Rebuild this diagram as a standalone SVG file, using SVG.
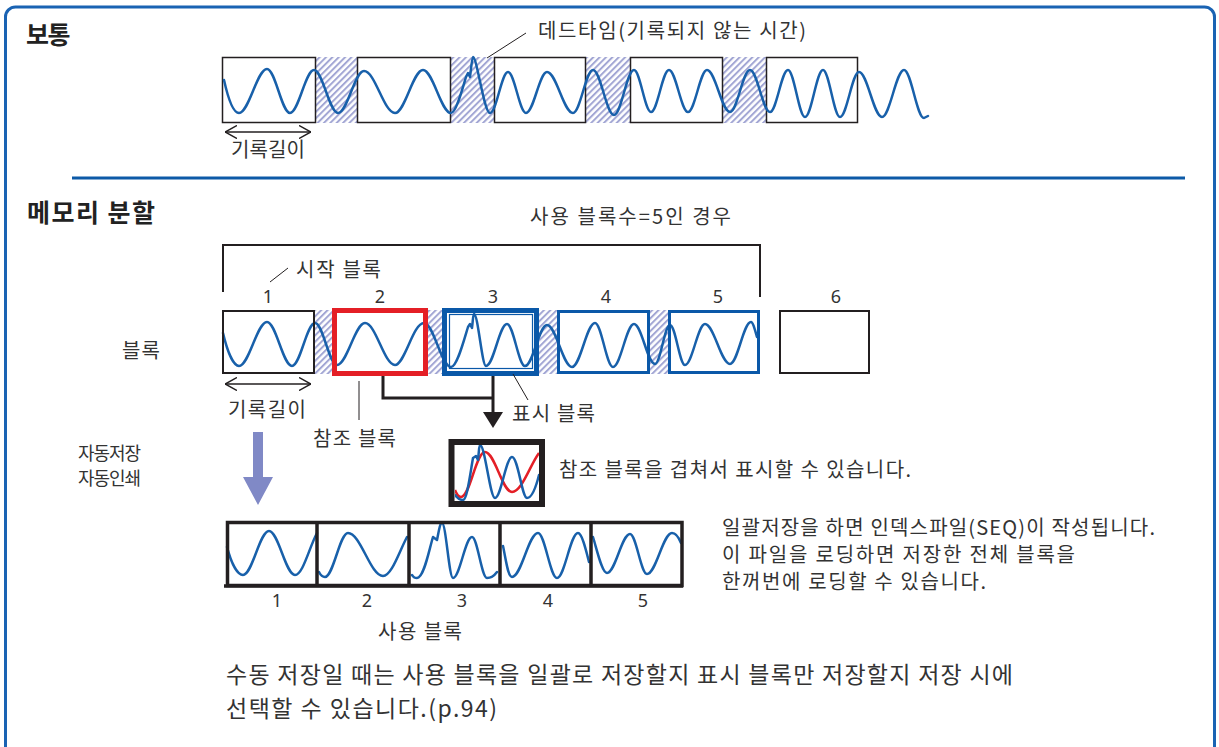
<svg xmlns="http://www.w3.org/2000/svg" width="1219" height="747" viewBox="0 0 1219 747">
<style>
text{font-family:"Noto Sans CJK KR","Noto Sans",sans-serif;fill:#333;font-size:20px}
.t{font-weight:bold;font-size:25px;fill:#222}
.num{font-family:"Noto Sans",sans-serif;font-size:18px;text-anchor:middle}
.bt{font-size:23px}
.sm{font-size:18px}
.wave{fill:none;stroke:#1860aa;stroke-width:2.5;stroke-linejoin:round;stroke-linecap:round}
.box{fill:none;stroke:#231f20;stroke-width:1.5}
.bbox{fill:none;stroke:#231f20;stroke-width:2}
.ln{fill:none;stroke:#231f20;stroke-width:1}
.hatch{fill:url(#hp)}
</style>
<defs>
<pattern id="hp" width="4.5" height="4.5" patternUnits="userSpaceOnUse" patternTransform="rotate(45)">
<rect width="4.5" height="4.5" fill="#fff"/>
<line x1="1" y1="0" x2="1" y2="4.5" stroke="#a2a6d4" stroke-width="2"/>
</pattern>
<marker id="oa" viewBox="0 0 12 14" refX="12" refY="7" markerWidth="12" markerHeight="14" markerUnits="userSpaceOnUse" orient="auto-start-reverse">
<path d="M0,0.5 L12,7 L0,13.5" fill="none" stroke="#231f20" stroke-width="1.5"/>
</marker>
<clipPath id="ovc"><rect x="455" y="445" width="84" height="56"/></clipPath>
</defs>

<rect id="frame" x="5.5" y="7" width="1209" height="760" rx="10" fill="#fff" stroke="#1a63b3" stroke-width="3"/>
<line id="divider" x1="72" y1="178" x2="1185" y2="178" stroke="#0d5aa7" stroke-width="3"/>

<g id="titles">
<text class="t" x="26" y="44" font-size="26" letter-spacing="-1.5">보통</text>
<text class="t" x="27" y="222" textLength="128">메모리 분할</text>
</g>

<g id="normal">
<rect class="hatch" x="316" y="57" width="41" height="66"/>
<rect class="hatch" x="451" y="57" width="43" height="66"/>
<rect class="hatch" x="586" y="57" width="44" height="66"/>
<rect class="hatch" x="723" y="57" width="43" height="66"/>
<rect class="box" x="222.5" y="57.5" width="93" height="65"/>
<rect class="box" x="357.5" y="57.5" width="93" height="65"/>
<rect class="box" x="494.5" y="57.5" width="91" height="65"/>
<rect class="box" x="630.5" y="57.5" width="92" height="65"/>
<rect class="box" x="766.5" y="57.5" width="91" height="65"/>
<path class="wave" d="M224,80 C228,98 233,113 239,113 C249,113 257,69 267,69 C275.3,69 281.7,113 290,113 C298.6,113 305.4,70 314,70 C322.6,70 329.4,113 338,113 C347.4,113 354.6,71 364,71 C375.2,71 383.8,113 395,113 C405,113 413,70 423,70 C433,70 441,113 451,113 C456,113 462,90 466,77 L468,73 L470,77 C471,70 472,57 473,57 C477,57 484,113 490,113 C496.5,113 501.5,72 508,72 C514.5,72 519.5,113 526,113 C533.6,113 539.4,72 547,72 C556.4,72 563.6,113 573,113 C580.2,113 585.8,70 593,70 C600.6,70 606.4,115 614,115 C621.2,115 626.8,70 634,70 C640.1,70 644.9,112 651,112 C657.5,112 662.5,70 669,70 C675.8,70 681.2,112 688,112 C694.8,112 700.2,70 707,70 C715.3,70 721.7,112 730,112 C737.2,112 742.8,70 750,70 C757.2,70 762.8,112 770,112 C776.5,112 781.5,70 788,70 C794.1,70 798.9,117 805,117 C811.5,117 816.5,70 823,70 C829.1,70 833.9,117 840,117 C846.8,117 852.2,72 859,72 C867.3,72 873.7,117 882,117 C889.9,117 896.1,70 904,70 C911.2,70 916.8,118 924,118 L928,116"/>
<line class="ln" x1="526" y1="33" x2="487" y2="58"/>
<text x="538" y="38" textLength="268">데드타임(기록되지 않는 시간)</text>
<line class="box" x1="225" y1="132" x2="311" y2="132" marker-start="url(#oa)" marker-end="url(#oa)"/>
<text x="231" y="157" textLength="74">기록길이</text>
</g>

<g id="split-header">
<text x="530" y="224" textLength="201">사용 블록수=5인 경우</text>
<path d="M223,292 V245 H760 V297" fill="none" stroke="#231f20" stroke-width="2"/>
<line class="ln" x1="288" y1="268" x2="270" y2="282"/>
<text x="296" y="277" textLength="85">시작 블록</text>
<text class="num" x="268" y="303">1</text>
<text class="num" x="380" y="303">2</text>
<text class="num" x="493" y="303">3</text>
<text class="num" x="606" y="303">4</text>
<text class="num" x="718" y="303">5</text>
<text class="num" x="836" y="303">6</text>
<text x="122" y="358" textLength="38">블록</text>
</g>

<g id="blocks">
<rect class="hatch" x="314" y="310" width="19" height="64"/>
<rect class="hatch" x="428" y="310" width="15" height="64"/>
<rect class="hatch" x="538" y="310" width="19" height="64"/>
<rect class="hatch" x="649" y="310" width="19" height="64"/>
<path class="wave" d="M223,333 C227,350 233,366 239,366 C249,366 257,322 267,322 C276,322 283,366 292,366 C300.3,366 306.7,323 315,323 C322.9,323 329.1,365 337,365 C347,365 355,323 365,323 C375.8,323 384.2,365 395,365 C404.7,365 413,323 424,323 C433.7,323 441.3,367 451,367 C457,367 464,340 468,327 L470,324 L472,328 C473,320 473,314 474,314 C478,314 482,366 486,366 C493.6,366 499.4,324 507,324 C513.5,324 518.5,366 525,366 C532.9,366 539.1,325 547,325 C556,325 563,367 572,367 C580.3,367 586.7,323 595,323 C601.5,323 606.5,367 613,367 C620.6,367 626.4,324 634,324 C641.6,324 647.4,364 655,364 C660.4,364 664.6,325 670,325 C675.4,325 679.6,365 685,365 C692.2,365 697.8,324 705,324 C714,324 721,364 730,364 C737.6,364 743.4,322 751,322 C753,322 755,330 757,337"/>
<rect class="bbox" x="223" y="311" width="91" height="62"/>
<rect x="334.5" y="310.5" width="91" height="63" fill="none" stroke="#e41f26" stroke-width="5"/>
<rect x="444.5" y="310.5" width="92" height="63" fill="none" stroke="#0a58a8" stroke-width="5"/>
<rect x="449.5" y="314.5" width="83" height="54" fill="none" stroke="#0a58a8" stroke-width="1.2"/>
<rect x="558.5" y="311.5" width="90" height="61" fill="none" stroke="#0a58a8" stroke-width="3"/>
<rect x="669.5" y="311.5" width="89" height="61" fill="none" stroke="#0a58a8" stroke-width="3"/>
<rect class="bbox" x="780" y="311" width="89" height="62"/>
</g>

<g id="block-labels">
<line class="box" x1="225" y1="384" x2="311" y2="384" marker-start="url(#oa)" marker-end="url(#oa)"/>
<text x="228" y="417" textLength="78">기록길이</text>
<line class="ln" x1="359" y1="381" x2="359" y2="420"/>
<text x="313" y="446" textLength="83">참조 블록</text>
<line class="ln" x1="513" y1="374" x2="528" y2="400"/>
<text x="512" y="421" textLength="83">표시 블록</text>
</g>

<g id="connectors">
<path d="M383,376 V398 H493 M493,376 V413" fill="none" stroke="#231f20" stroke-width="3"/>
<polygon points="483,412 503,412 493,428" fill="#231f20"/>
<polygon points="253,432 263,432 263,477 273,477 258,505 243,477 253,477" fill="#8089c6"/>
</g>

<g id="overlay">
<g clip-path="url(#ovc)">
<path d="M455,490 C457,495 459,497 461,497 C470,497 476,452 485,452 C494.7,452 502.3,492 512,492 C521.7,492 530,465 539,453" fill="none" stroke="#e41f26" stroke-width="2.5"/>
<path class="wave" d="M455,495 C458,499 460,500 463,500 C467,500 470,475 473,458 L476,456 L478,460 C479,452 479,445 480,445 C485,445 490,498 495,498 C501,498 506,457 512,457 C518,457 522,498 527,498 C532,498 536,487 539,475"/>
</g>
<rect x="451.5" y="442" width="90.5" height="62" fill="none" stroke="#231f20" stroke-width="6"/>
<text x="559" y="477" textLength="352">참조 블록을 겹쳐서 표시할 수 있습니다.</text>
</g>

<g id="auto">
<text class="sm" x="78" y="460" textLength="63">자동저장</text>
<text class="sm" x="78" y="485" textLength="63">자동인쇄</text>
</g>

<g id="used-blocks">
<path class="wave" d="M227,547 C231,562 237,575 243,575 C252.4,575 259.6,531 269,531 C278.4,531 285.6,575 295,575 C302.9,575 309,548 317,533"/>
<path class="wave" d="M319,572 C321,576 323,577 325,577 C333.3,577 339.7,533 348,533 C360.6,533 370.4,576 383,576 C391.6,576 399,552 407,537"/>
<path class="wave" d="M412,575 C414,578 415,578 417,578 C424,578 429,550 433,537 L437,540 C439,530 440,523 442,523 C446,523 449,578 453,578 C459.8,578 465.2,537 472,537 C477.4,537 481.6,578 487,578 C491,578 494,576 497,572"/>
<path class="wave" d="M503,546 C506,560 508,577 512,577 C521.4,577 528.6,533 538,533 C544.8,533 550.2,578 557,578 C564.6,578 570.4,533 578,533 C582,533 586,550 589,562"/>
<path class="wave" d="M593,537 C597,550 602,573 607,573 C615.3,573 621.7,534 630,534 C636.1,534 640.9,574 647,574 C656,574 663,533 672,533 C676,533 679,538 681,543"/>
<rect x="227.5" y="522.5" width="454.5" height="63" fill="none" stroke="#231f20" stroke-width="3.5"/>
<path d="M317,522 V586 M409,522 V586 M500,522 V586 M591,522 V586 M224,586 H683" fill="none" stroke="#231f20" stroke-width="3.5"/>
<text class="num" x="277" y="607">1</text>
<text class="num" x="367" y="607">2</text>
<text class="num" x="462" y="607">3</text>
<text class="num" x="548" y="607">4</text>
<text class="num" x="643" y="607">5</text>
<text x="378" y="639" textLength="84">사용 블록</text>
</g>

<g id="notes">
<text x="722" y="535" textLength="433">일괄저장을 하면 인덱스파일(SEQ)이 작성됩니다.</text>
<text x="722" y="562" textLength="353">이 파일을 로딩하면 저장한 전체 블록을</text>
<text x="722" y="589" textLength="264">한꺼번에 로딩할 수 있습니다.</text>
<text class="bt" x="226" y="683" textLength="787">수동 저장일 때는 사용 블록을 일괄로 저장할지 표시 블록만 저장할지 저장 시에</text>
<text class="bt" x="226" y="717" textLength="271">선택할 수 있습니다.(p.94)</text>
</g>
</svg>
